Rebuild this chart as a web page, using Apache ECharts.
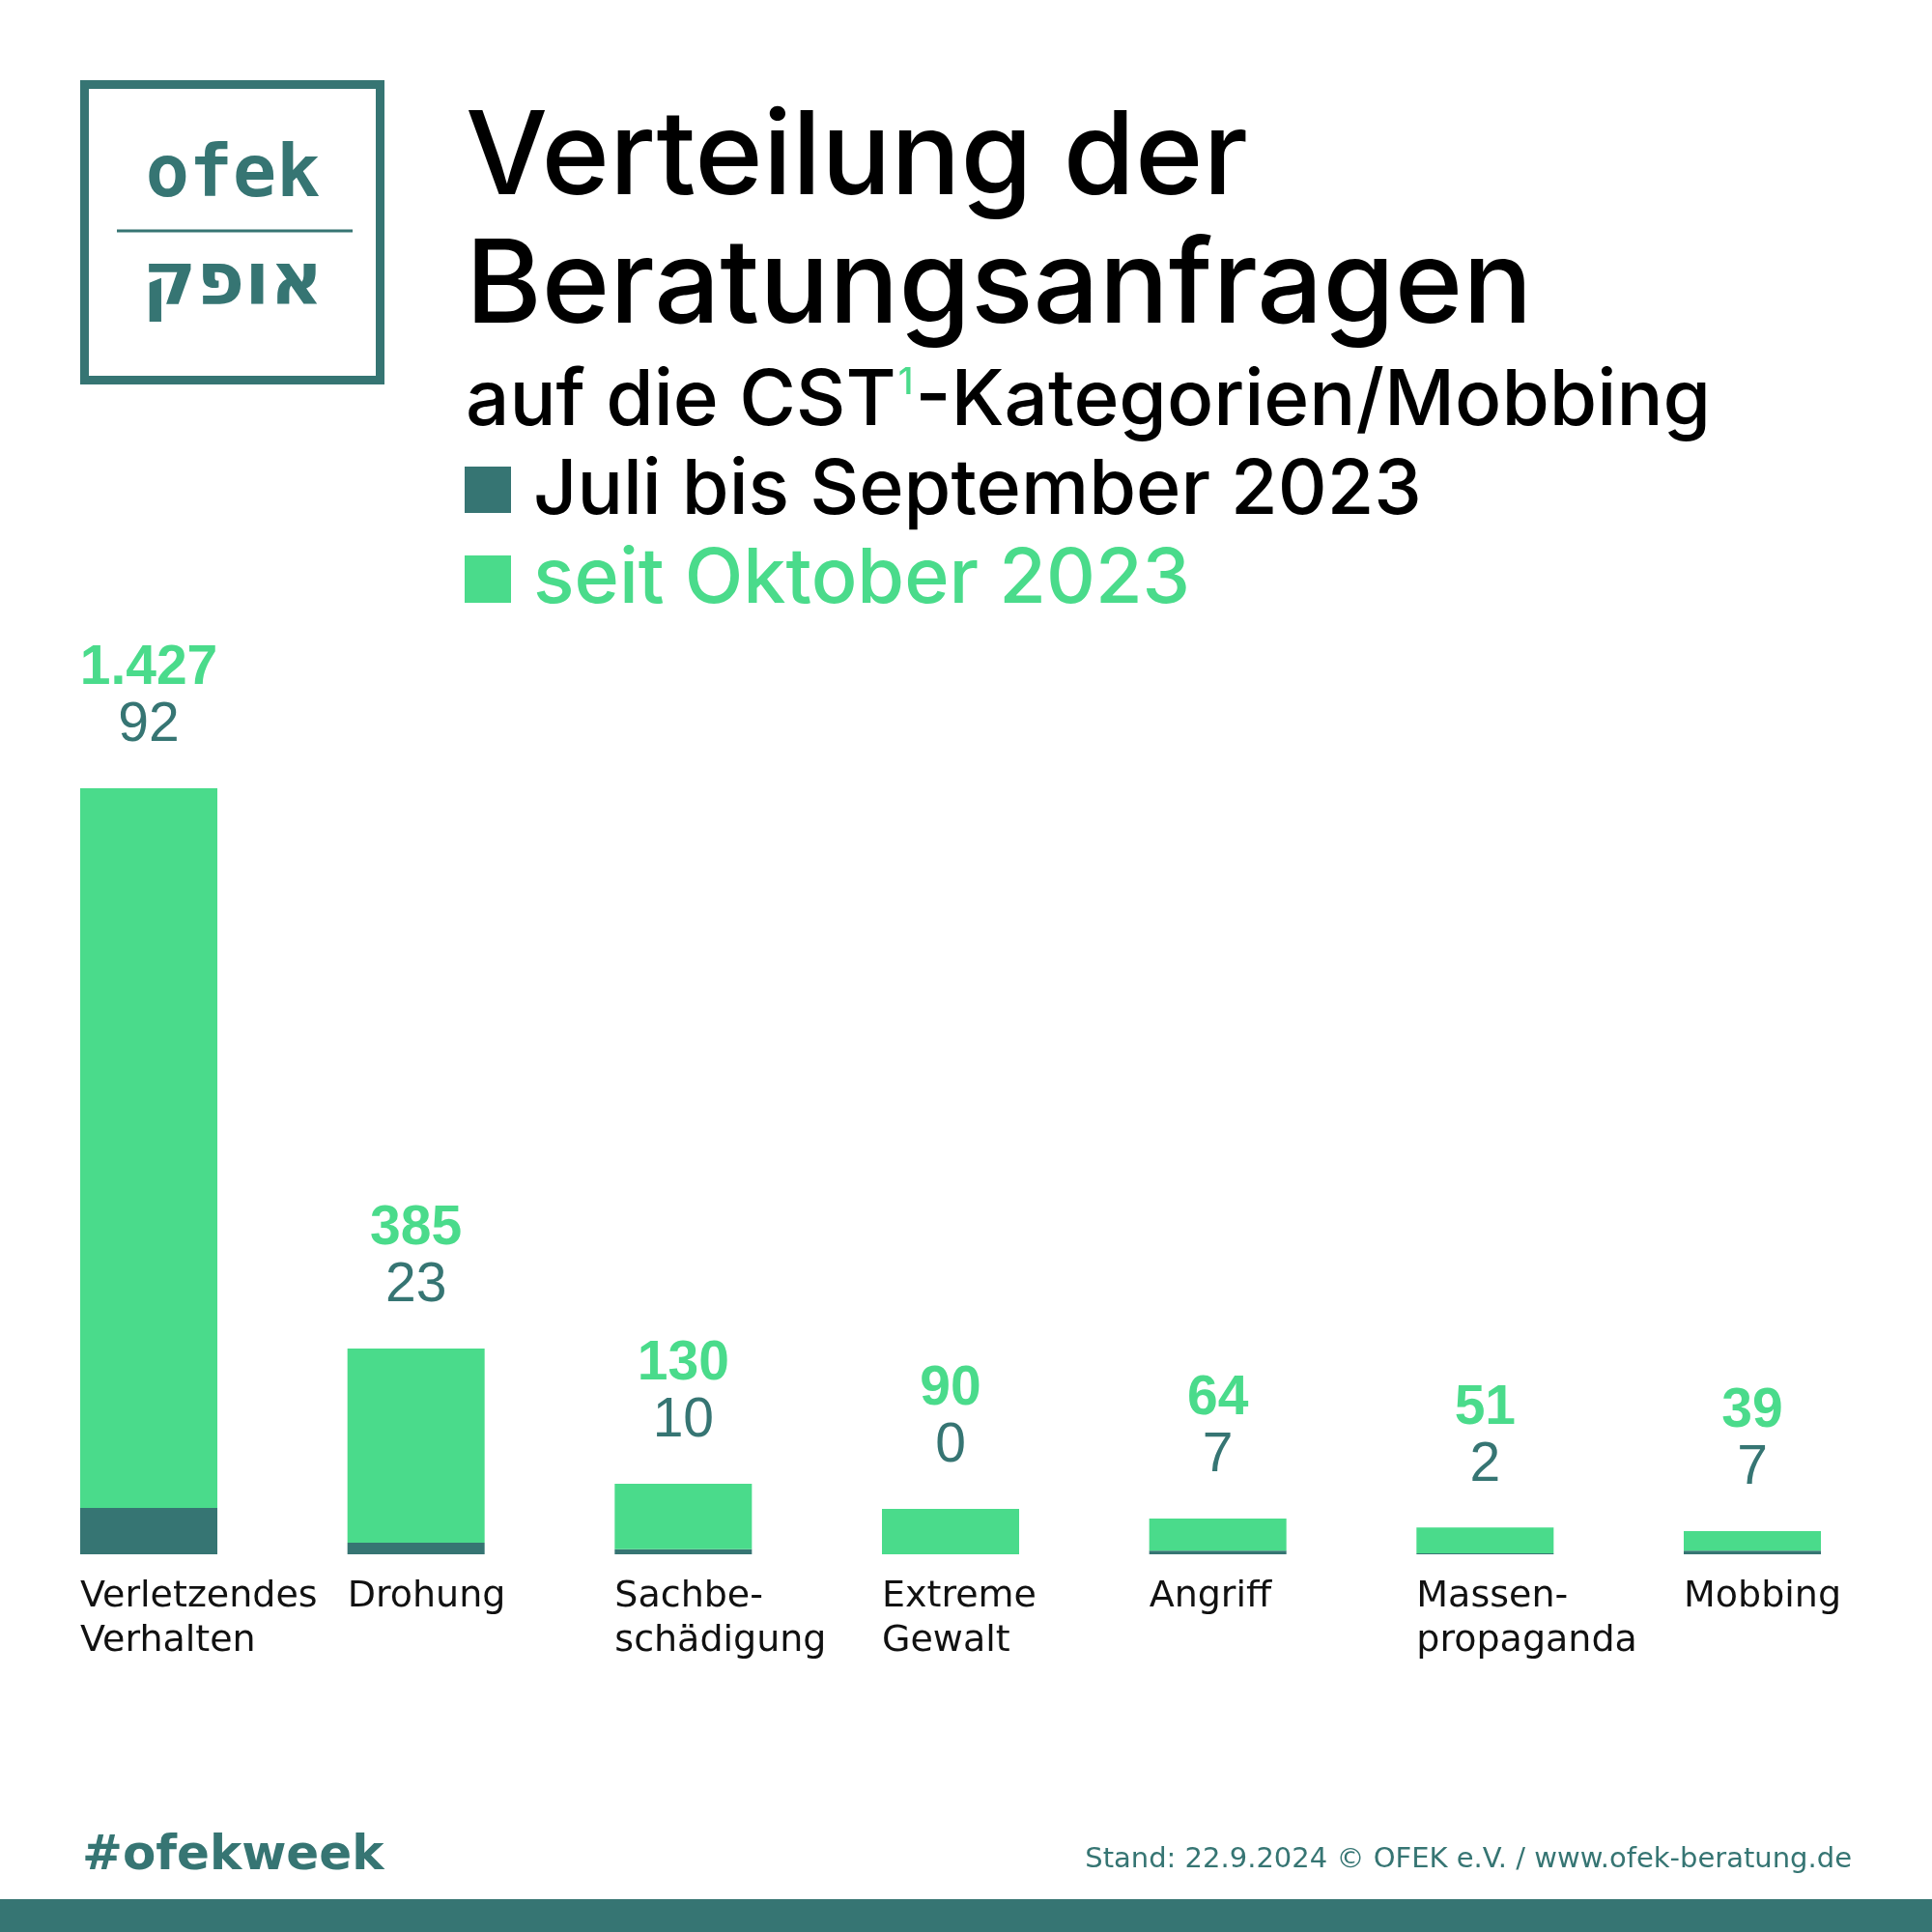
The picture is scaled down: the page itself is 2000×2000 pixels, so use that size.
<!DOCTYPE html>
<html>
<head>
<meta charset="utf-8">
<script src="https://cdn.jsdelivr.net/npm/echarts@6/dist/echarts.min.js"></script>
<style>html,body{margin:0;padding:0;background:#fff}#c{width:2000px;height:2000px}</style>
</head>
<body>
<div id="c"></div>
<script>
const categories = ['Verletzendes\nVerhalten', 'Drohung', 'Sachbe-\nschädigung', 'Extreme\nGewalt', 'Angriff', 'Massen-\npropaganda', 'Mobbing'];
const juliSep2023 = [92, 23, 10, 0, 7, 2, 7];
const seitOkt2023 = [1427, 385, 130, 90, 64, 51, 39];
const seriesNames = ['Juli bis September 2023', 'seit Oktober 2023'];

const TEAL = '#367573';
const GREEN = '#4ADB8B';
const fmt = v => String(v).replace(/\B(?=(\d{3})+(?!\d))/g, '.');

const chart = echarts.init(document.getElementById('c'), null, {renderer: 'canvas'});
chart.setOption({
  animation: false,
  backgroundColor: '#ffffff',
  grid: {left: 15.67, right: 47.67, top: 816, bottom: 391},
  xAxis: {
    type: 'category', data: categories,
    axisLine: {show: false}, axisTick: {show: false}, axisLabel: {show: false}, splitLine: {show: false}
  },
  yAxis: {type: 'value', min: 0, max: 1519, show: false, splitLine: {show: false}},
  series: [
    {
      name: seriesNames[0], type: 'bar', stack: 'a', data: juliSep2023, barWidth: 142,
      itemStyle: {color: TEAL}, silent: true,
      label: {
        show: true, position: 'bottom', distance: 21, align: 'left', offset: [-71, 0],
        formatter: p => categories[p.dataIndex],
        fontFamily: 'DejaVu Sans', fontSize: 38, lineHeight: 46, color: '#111111', verticalAlign: 'top'
      }
    },
    {
      name: seriesNames[1], type: 'bar', stack: 'a', data: seitOkt2023, barWidth: 142,
      itemStyle: {color: GREEN}, silent: true,
      label: {
        show: true, position: 'top', distance: 35,
        formatter: p => '{g|' + fmt(seitOkt2023[p.dataIndex]) + '}\n{d|' + fmt(juliSep2023[p.dataIndex]) + '}',
        rich: {
          g: {fontFamily: 'Liberation Sans', fontWeight: 'bold', fontSize: 57, lineHeight: 59, color: GREEN, align: 'center'},
          d: {fontFamily: 'Liberation Sans', fontSize: 57, lineHeight: 59, color: TEAL, align: 'center'}
        }
      }
    }
  ],
  graphic: [
    // logo box
    {type: 'rect', shape: {x: 87.5, y: 87.5, width: 306, height: 306}, style: {fill: 'none', stroke: TEAL, lineWidth: 9}},
    {type: 'rect', shape: {x: 121, y: 237.5, width: 244, height: 3}, style: {fill: TEAL}},
    {type: 'text', x: 241, y: 184, style: {text: 'ofek', font: 'bold 75px "DejaVu Sans Mono"', fill: TEAL, align: 'center', verticalAlign: 'middle'}},
    {type: 'text', x: 241, y: 295, style: {text: 'אופק', font: 'bold 76px "DejaVu Sans"', fill: TEAL, align: 'center', verticalAlign: 'middle'}},
    // title
    {type: 'text', x: 482, y: 165, style: {text: 'Verteilung der', font: '500 120px Inter', fill: '#000', align: 'left', verticalAlign: 'middle'}},
    {type: 'text', x: 482, y: 298, style: {text: 'Beratungsanfragen', font: '500 120px Inter', fill: '#000', align: 'left', verticalAlign: 'middle'}},
    {type: 'text', x: 482, y: 416, style: {
      text: '{a|auf die CST}{s|1}{a|-Kategorien/Mobbing}', align: 'left', verticalAlign: 'middle',
      rich: {
        a: {font: '500 80px Inter', fill: '#000', lineHeight: 88},
        s: {font: '500 38px Inter', fill: GREEN, lineHeight: 88, verticalAlign: 'top', padding: [6, 2, 0, 2]}
      }
    }},
    // legend
    {type: 'rect', shape: {x: 481, y: 483, width: 48, height: 48}, style: {fill: TEAL}},
    {type: 'text', x: 552, y: 508.5, style: {text: seriesNames[0], font: '500 79px Inter', fill: '#000', align: 'left', verticalAlign: 'middle'}},
    {type: 'rect', shape: {x: 481, y: 575, width: 48, height: 49}, style: {fill: GREEN}},
    {type: 'text', x: 552, y: 600.5, style: {text: seriesNames[1], font: '500 79px Inter', fill: GREEN, align: 'left', verticalAlign: 'middle'}},
    // footer
    {type: 'text', x: 85, y: 1922, style: {text: '#ofekweek', font: 'bold 50px "DejaVu Sans"', fill: TEAL, align: 'left', verticalAlign: 'middle'}},
    {type: 'text', x: 1917, y: 1925, style: {text: 'Stand: 22.9.2024 © OFEK e.V. / www.ofek-beratung.de', font: '29px "DejaVu Sans"', fill: TEAL, align: 'right', verticalAlign: 'middle'}},
    {type: 'rect', shape: {x: 0, y: 1966, width: 2000, height: 34}, style: {fill: TEAL}}
  ]
});
</script>
</body>
</html>
